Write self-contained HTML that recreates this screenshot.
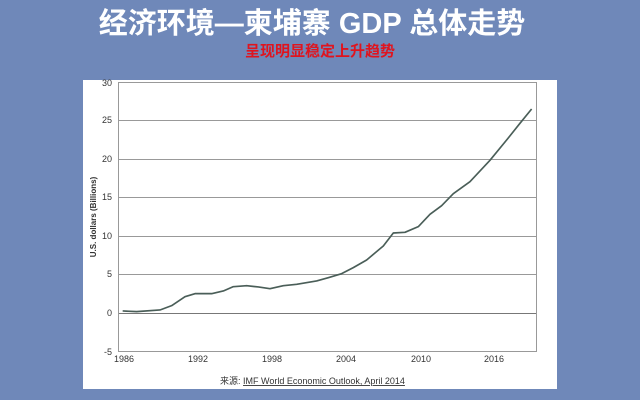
<!DOCTYPE html>
<html><head><meta charset="utf-8"><style>
body{margin:0;width:640px;height:400px;background:#6f88b9;overflow:hidden;font-family:"Liberation Sans","Noto Sans CJK SC",sans-serif;position:relative}
.t{position:absolute;top:0px;left:-8px;width:640px;text-align:center;color:#fff;font-size:29px;font-weight:bold;font-family:"Liberation Sans","Noto Sans CJK SC",sans-serif}
.s{position:absolute;top:40px;left:0;width:640px;text-align:center;color:#e0141e;font-size:15px;font-weight:bold}
.p{position:absolute;left:83px;top:80px;width:474px;height:309px;background:#fff}
</style></head><body>
<div class="t">经济环境—柬埔寨 GDP 总体走势</div>
<div class="s">呈现明显稳定上升趋势</div>
<div class="p"></div>
<svg width="640" height="400" style="position:absolute;left:0;top:0">
<g stroke="#999" stroke-width="1">
<line x1="118" y1="82.5" x2="536" y2="82.5"/>
<line x1="118" y1="120.5" x2="536" y2="120.5"/>
<line x1="118" y1="159.5" x2="536" y2="159.5"/>
<line x1="118" y1="197.5" x2="536" y2="197.5"/>
<line x1="118" y1="236.5" x2="536" y2="236.5"/>
<line x1="118" y1="274.5" x2="536" y2="274.5"/>
<line x1="118" y1="313.5" x2="536" y2="313.5" stroke="#777"/>
<line x1="118" y1="351.5" x2="536" y2="351.5"/>
<line x1="118.5" y1="82" x2="118.5" y2="352"/>
<line x1="536.5" y1="82" x2="536.5" y2="352"/>
</g>
<g font-size="9" fill="#333" text-anchor="end" font-family="Liberation Sans,sans-serif">
<text x="112" y="86">30</text><text x="112" y="123">25</text><text x="112" y="162">20</text>
<text x="112" y="200">15</text><text x="112" y="239">10</text><text x="112" y="277">5</text>
<text x="112" y="316">0</text><text x="112" y="355">-5</text>
</g>
<g font-size="9" fill="#333" text-anchor="middle" font-family="Liberation Sans,sans-serif">
<text x="124" y="362">1986</text><text x="198" y="362">1992</text><text x="272" y="362">1998</text>
<text x="346" y="362">2004</text><text x="421" y="362">2010</text><text x="494" y="362">2016</text>
</g>
<text transform="translate(96,217) rotate(-90)" font-size="8" font-weight="bold" fill="#333" text-anchor="middle">U.S. dollars (Billions)</text>
<text x="220" y="384" font-size="9" fill="#333">来源: <tspan text-decoration="underline">IMF World Economic Outlook, April 2014</tspan></text>
<g transform="translate(80,75) scale(0.3333)">
<polyline fill="none" stroke="#4a5e58" stroke-width="5" stroke-linejoin="round" points="128,708 170,710 240,705 275,692 315,665 345,656 395,656 430,648 460,635 500,632 535,636 570,641 610,632 650,628 710,618 745,608 785,596 820,578 860,555 910,513 940,474 975,472 1015,455 1050,418 1085,392 1120,356 1170,320 1230,256 1280,195 1320,145 1355,102"/>
</g>
</svg>
</body></html>
